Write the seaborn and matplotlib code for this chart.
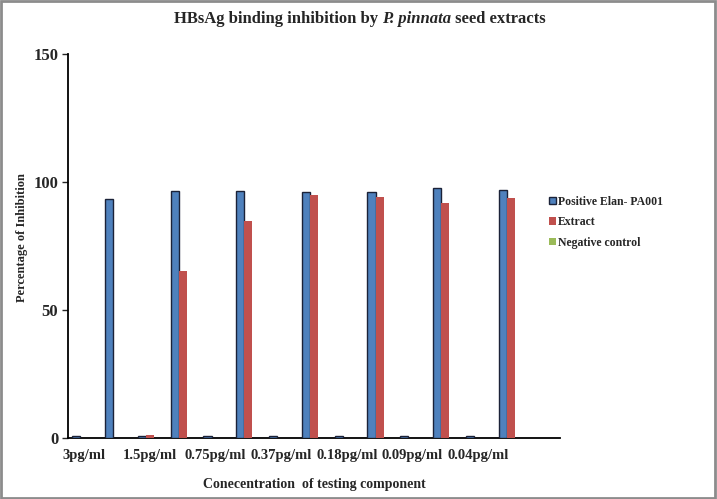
import matplotlib
matplotlib.use("Agg")
import pandas as pd
import matplotlib.pyplot as plt
import seaborn as sns
from matplotlib.patches import Patch, Rectangle

# Concentrations (labelled slots) and the values
concentrations = ["3pg/ml", "1.5pg/ml", "0.75pg/ml", "0.37pg/ml",
                  "0.18pg/ml", "0.09pg/ml", "0.04pg/ml"]
series_names = ["Positive Elan- PA001", "Extract", "Negative control"]

# values at the labelled slots (near zero)
positive_low = [0.8, 0.8, 0.8, 0.8, 0.8, 0.8, 0.8]
extract_low = [0, 1.2, 0, 0, 0, 0, 0]
negative_low = [0, 0, 0, 0, 0, 0, 0]

# values at the unlabelled slots in between
positive_high = [93.4, 96.6, 96.6, 96.2, 96.0, 97.8, 97.0]
extract_high = [0, 65.4, 84.9, 94.8, 94.0, 91.9, 93.6]
negative_high = [0, 0, 0, 0, 0, 0, 0]

colors = ["#4F81BD", "#C0504D", "#9BBB59"]

# Build long table: slot 2i = labelled concentration, 2i+1 = unlabelled
rows = []
for i in range(len(concentrations)):
    for name, lo, hi in zip(series_names,
                            [positive_low, extract_low, negative_low],
                            [positive_high, extract_high, negative_high]):
        rows.append({"slot": 2 * i, "series": name, "value": lo[i]})
        rows.append({"slot": 2 * i + 1, "series": name, "value": hi[i]})
df = pd.DataFrame(rows)

sns.set_theme(style="white")
plt.rcParams["font.family"] = ["Liberation Serif", "DejaVu Serif"]
plt.rcParams["font.weight"] = "bold"

fig = plt.figure(figsize=(7.17, 4.99), dpi=100)
ax = fig.add_axes([68 / 717, 61 / 499, 492 / 717, 384 / 499])

sns.barplot(data=df, x="slot", y="value", hue="series", hue_order=series_names,
            palette=colors, width=0.74, saturation=1, ax=ax, legend=False)

# blue series has dark outline, others flat
for i, cont in enumerate(ax.containers):
    for bar in cont:
        bar.set_zorder(3)
        if i == 0:
            bar.set_edgecolor("#1b2238")
            bar.set_linewidth(1.0)
        else:
            bar.set_linewidth(0)

ax.set_xlim(-0.5, 14.5)
ax.set_ylim(0, 150)
ax.set_yticks([0, 50, 100, 150])
ax.set_yticklabels(["0", "50", "100", "150"], fontsize=12, fontweight="bold")
ax.set_xticks([2 * i for i in range(len(concentrations))])
ax.set_xticklabels(concentrations, fontsize=10.5, fontweight="bold")
ax.tick_params(axis="x", length=0, pad=8)
ax.tick_params(axis="y", length=4, width=1, direction="out", left=True, pad=3)

sns.despine(ax=ax)
for s in ["left", "bottom"]:
    ax.spines[s].set_color("black")
    ax.spines[s].set_linewidth(1.3)

ax.set_xlabel("Conecentration  of testing component", fontsize=10, fontweight="bold")
ax.xaxis.set_label_coords((314 - 68) / 492, -0.105)
ax.set_ylabel("Percentage of Inhibition", fontsize=9, fontweight="bold")
ax.yaxis.set_label_coords(-0.081, 0.523)

# title with italic species name
t1 = fig.text(174 / 717, 1 - 19 / 499, "HBsAg binding inhibition by ", fontsize=12,
              fontweight="bold", ha="left", va="center")
t2 = ax.annotate("P. pinnata", xy=(1, 0), xycoords=t1, va="bottom", ha="left",
                 fontsize=12, fontweight="bold", fontstyle="italic",
                 annotation_clip=False)
t3 = ax.annotate(" seed extracts", xy=(1, 0), xycoords=t2, va="bottom", ha="left",
                 fontsize=12, fontweight="bold", annotation_clip=False)

handles = [Patch(facecolor=colors[0], edgecolor="#1b2238", linewidth=1),
           Patch(facecolor=colors[1], edgecolor="none"),
           Patch(facecolor=colors[2], edgecolor="none")]
leg = fig.legend(handles, series_names, loc="upper left",
                 bbox_to_anchor=(538 / 717, 1 - 185 / 499), frameon=False,
                 handlelength=0.6, handleheight=0.6, handletextpad=0.2,
                 labelspacing=0.72, prop={"size": 8.5, "weight": "bold"})

# grey frame around the whole picture
fig.patches.append(Rectangle((0.002, 0.003), 0.995, 0.994, transform=fig.transFigure,
                             fill=False, edgecolor="#8c8c8c", linewidth=2))

fig.savefig("out.png", dpi=100)
